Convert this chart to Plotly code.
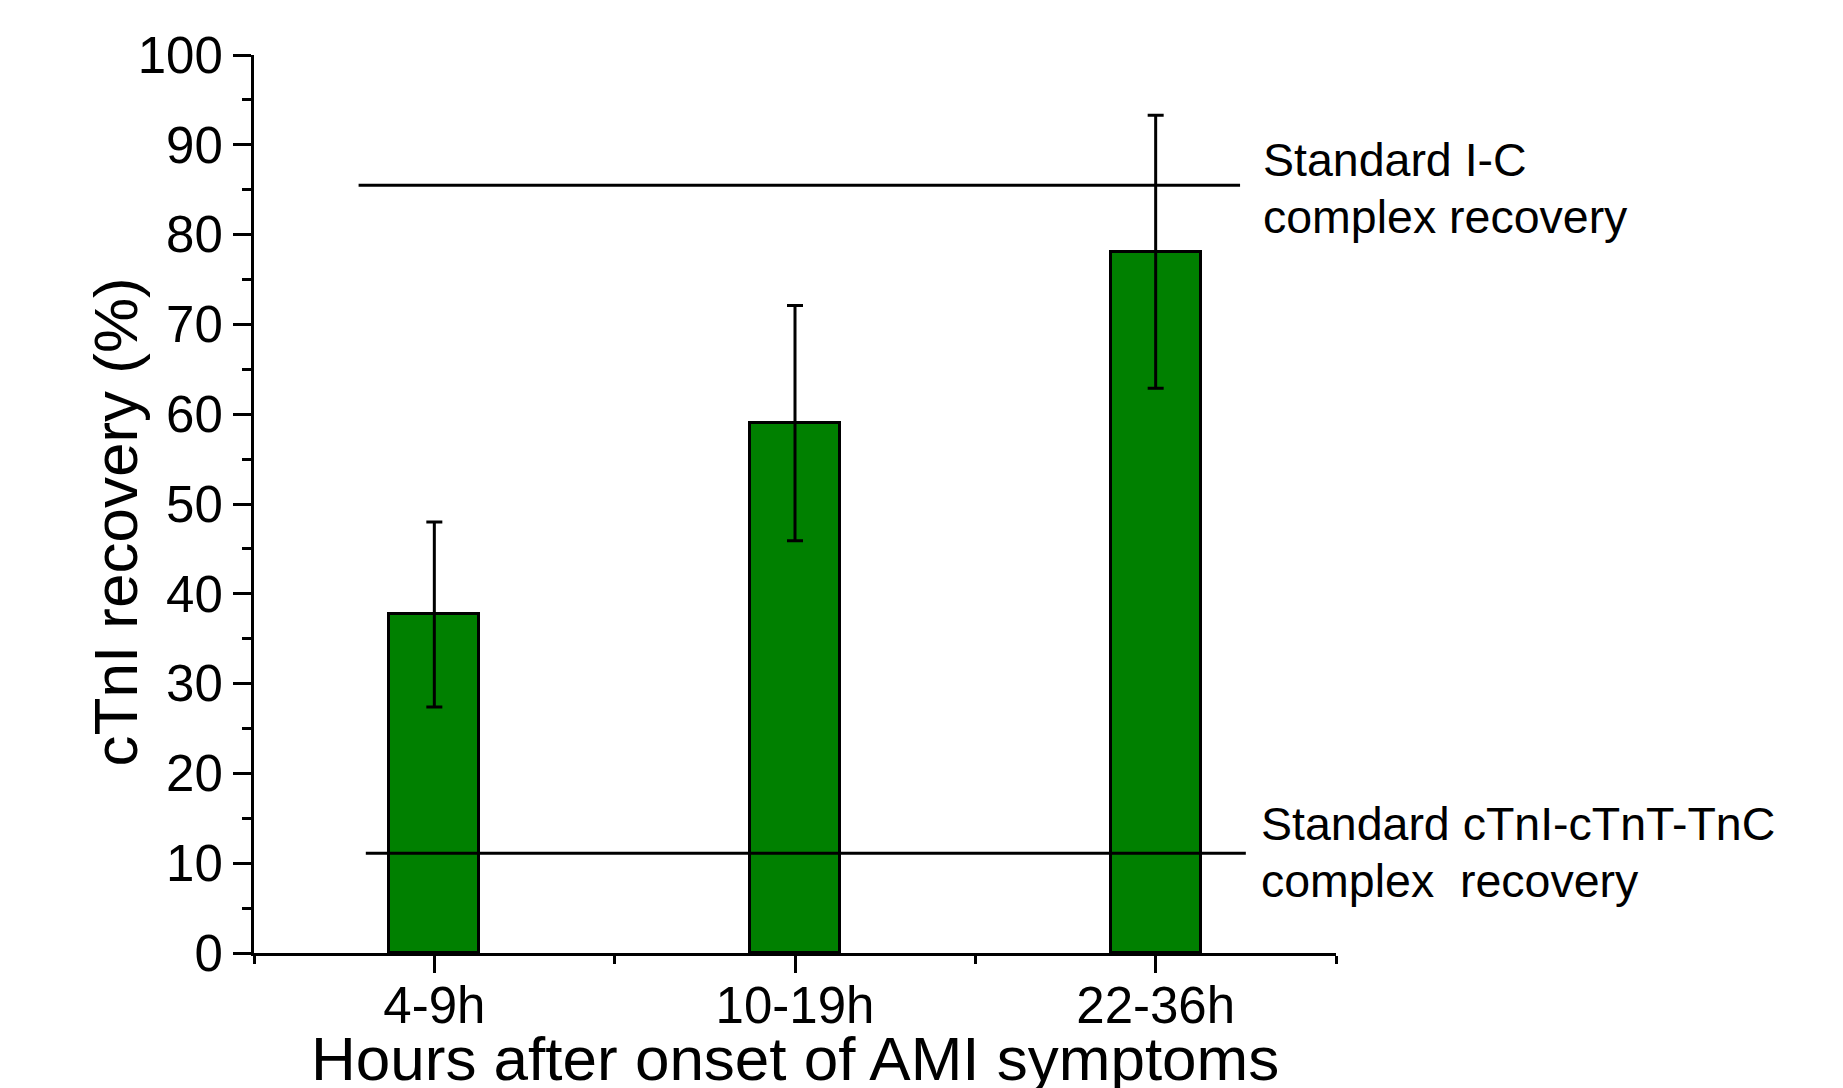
import plotly.graph_objects as go

categories = ["4-9h", "10-19h", "22-36h"]
recovery = [37.7, 59.0, 78.1]
errors = [10.3, 13.1, 15.2]
standard_levels = [85.5, 11.1]
standard_labels = [["Standard I-C", "complex recovery"],
                   ["Standard cTnI-cTnT-TnC", "complex  recovery"]]
y_ticks = list(range(0, 101, 10))

FONT = "Liberation Sans, Arial, sans-serif"
xpos = list(range(len(categories)))

fig = go.Figure()
fig.add_trace(go.Bar(
    x=xpos, y=recovery, width=0.25,
    marker=dict(color="#008000", line=dict(color="black", width=3)),
    error_y=dict(type="data", array=errors, visible=True, color="black",
                 thickness=3, width=8),
    showlegend=False,
))

# standard recovery lines
line_spans = [(-0.21, 2.234), (-0.19, 2.25)]
for lvl, (x0, x1) in zip(standard_levels, line_spans):
    fig.add_shape(type="line", xref="x", yref="y", x0=x0, x1=x1, y0=lvl, y1=lvl,
                  line=dict(color="black", width=3), layer="above")

annotations = []
text_offsets = [(2.8, -3.5), (3.3, -3.1)]
text_x = [2.292, 2.287]
for lvl, labels, (d1, d2), tx in zip(standard_levels, standard_labels, text_offsets, text_x):
    annotations.append(dict(x=tx, y=lvl + d1, xref="x", yref="y", text=labels[0],
                            showarrow=False, xanchor="left", yanchor="middle",
                            font=dict(family=FONT, size=46.5, color="black")))
    annotations.append(dict(x=tx, y=lvl + d2, xref="x", yref="y", text=labels[1],
                            showarrow=False, xanchor="left", yanchor="middle",
                            font=dict(family=FONT, size=46.5, color="black")))

annotations.append(dict(x=-0.128, y=0.48, xref="paper", yref="paper",
                        text="cTnI recovery (%)", textangle=-90, showarrow=False,
                        xanchor="center", yanchor="middle",
                        font=dict(family=FONT, size=62, color="black")))
annotations.append(dict(x=0.5, y=-0.118, xref="paper", yref="paper",
                        text="Hours after onset of AMI symptoms", showarrow=False,
                        xanchor="center", yanchor="middle",
                        font=dict(family=FONT, size=62, color="black")))

fig.update_layout(
    width=1843, height=1088,
    margin=dict(l=254, r=507, t=55, b=135),
    paper_bgcolor="white", plot_bgcolor="white",
    font=dict(family=FONT, color="black"),
    annotations=annotations,
    bargap=0,
)
fig.update_xaxes(
    range=[-0.5, 2.5], tickmode="array", tickvals=xpos, ticktext=categories,
    showline=True, linecolor="black", linewidth=3,
    ticks="outside", ticklen=17, tickwidth=3, tickcolor="black",
    tickfont=dict(family=FONT, size=51, color="black"),
    ticklabelstandoff=-11,
    minor=dict(tickmode="array", tickvals=[-0.5, 0.5, 1.5, 2.5], ticks="outside",
               ticklen=8, tickwidth=3, tickcolor="black"),
    showgrid=False, zeroline=False, fixedrange=True,
)
fig.update_yaxes(
    range=[0, 100], tickmode="array", tickvals=y_ticks,
    showline=True, linecolor="black", linewidth=3,
    ticks="outside", ticklen=18, tickwidth=3, tickcolor="black",
    tickfont=dict(family=FONT, size=51, color="black"),
    minor=dict(dtick=5, tick0=0, ticks="outside", ticklen=9, tickwidth=3,
               tickcolor="black"),
    showgrid=False, zeroline=False, fixedrange=True,
)

fig.write_html("out.html", config={"displayModeBar": False},
               post_script="document.body.style.margin='0';document.body.style.overflow='hidden';")
